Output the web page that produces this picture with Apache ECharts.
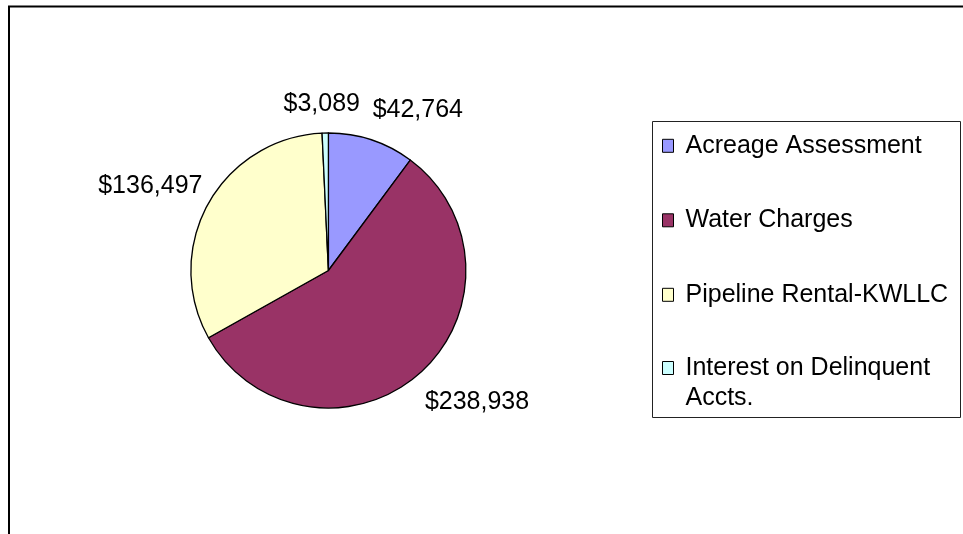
<!DOCTYPE html>
<html>
<head>
<meta charset="utf-8">
<script src="https://cdn.jsdelivr.net/npm/echarts@6/dist/echarts.min.js"></script>
<style>
html,body{margin:0;padding:0;background:#fff;}
#chart{width:963px;height:534px;}
</style>
</head>
<body>
<div id="chart"></div>
<script>
// ---- data ----
var categories = ['Acreage Assessment', 'Water Charges', 'Pipeline Rental-KWLLC', 'Interest on Delinquent Accts.'];
var values = [42764, 238938, 136497, 3089];
var colors = ['#9999FF', '#993366', '#FFFFCC', '#CCFFFF'];
// label nudges (px) relative to ECharts' outside placement
var labelNudge = [[-7, -20], [-6, 21], [8, -13], [40, -19]];

var FONT = '"Liberation Sans", Arial, sans-serif';

var chart = echarts.init(document.getElementById('chart'), null, {renderer: 'canvas'});

var pieData = categories.map(function (c, i) {
  return {name: c, value: values[i], itemStyle: {color: colors[i]}};
});

function money(v) { return '$' + v.toLocaleString('en-US'); }

var legendText = {
  fontFamily: FONT, fontSize: 25, color: '#000', lineHeight: 30
};

var option = {
  animation: false,
  backgroundColor: '#fff',
  graphic: [
    {type: 'rect', shape: {x: 9, y: 6.5, width: 1000, height: 600},
     style: {fill: 'none', stroke: '#000', lineWidth: 2}, silent: true},
    {type: 'rect', shape: {x: 652.5, y: 121.5, width: 308, height: 296},
     style: {fill: 'none', stroke: '#222', lineWidth: 1}, silent: true}
  ],
  legend: [
    {
      orient: 'vertical', left: 662, top: 128.3, padding: 0,
      itemWidth: 11, itemHeight: 13, itemGap: 39.5, icon: 'rect',
      data: categories.slice(0, 3),
      itemStyle: {borderColor: '#000', borderWidth: 1},
      textStyle: Object.assign({padding: [0, 0, 5, 7]}, legendText),
      selectedMode: false
    },
    {
      orient: 'vertical', left: 662, top: 323, padding: 0,
      itemWidth: 11, itemHeight: 13, icon: 'rect',
      data: categories.slice(3),
      formatter: function (n) { return ' \n' + n.replace('Delinquent ', 'Delinquent\n'); },
      itemStyle: {borderColor: '#000', borderWidth: 1},
      textStyle: Object.assign({padding: [0, 0, 0, 7]}, legendText),
      selectedMode: false
    }
  ],
  series: [{
    type: 'pie',
    center: [328.4, 270.5],
    radius: 137.5,
    startAngle: 90,
    clockwise: true,
    avoidLabelOverlap: false,
    silent: true,
    emphasis: {disabled: true},
    itemStyle: {borderColor: '#000', borderWidth: 1.3},
    label: {
      show: true, position: 'outside', alignTo: 'none',
      fontFamily: FONT, fontSize: 25, color: '#000',
      distanceToLabelLine: 5,
      formatter: function (p) { return money(p.value); }
    },
    labelLine: {show: false, length: 10, length2: 0},
    labelLayout: function (params) {
      var n = labelNudge[params.dataIndex];
      return {dx: n[0], dy: n[1]};
    },
    data: pieData
  }]
};
chart.setOption(option);
</script>
</body>
</html>
